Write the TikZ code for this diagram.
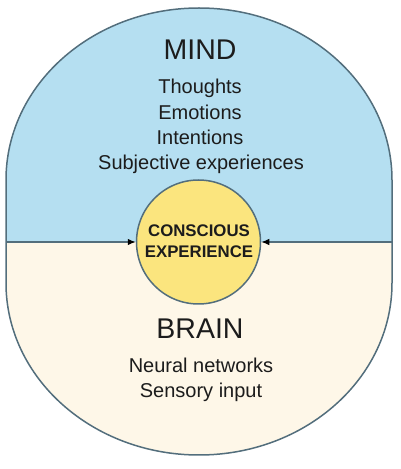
\documentclass[tikz,border=0pt]{standalone}
\usepackage{fontspec}
\setmainfont{Liberation Sans}
\usetikzlibrary{arrows.meta}
\definecolor{mindblue}{HTML}{B5DFF1}
\definecolor{braincream}{HTML}{FEF7E8}
\definecolor{coreyellow}{HTML}{FBE57E}
\definecolor{edgecol}{HTML}{536E7C}
\definecolor{txt}{HTML}{1C1C1C}
\begin{document}
\begin{tikzpicture}[x=1pt,y=1pt,
  title/.style={anchor=base,text=txt,font=\fontsize{28.5}{30}\selectfont},
  item/.style={anchor=base,text=txt,font=\fontsize{20}{22}\selectfont},
  core/.style={anchor=base,text=txt,font=\fontsize{16.8}{18}\selectfont\bfseries},
  link/.style={draw=edgecol,line width=1.2pt,-{Latex[length=8pt,width=6.5pt,color=black]}}]
\useasboundingbox (0,0) rectangle (401,469);
% outer shape
\def\shapepath{(6,289) arc[start angle=180,end angle=0,x radius=193,y radius=172] -- (392,186) arc[start angle=0,end angle=-180,x radius=193,y radius=172] -- cycle}
\begin{scope}
  \clip \shapepath;
  \fill[mindblue] (0,227) rectangle (401,469);
  \fill[braincream] (0,0) rectangle (401,227);
\end{scope}
\draw[edgecol,line width=1.5pt] \shapepath;
\coordinate (lw) at (6,227);
\coordinate (re) at (392,227);
\node[circle,draw=edgecol,line width=1.5pt,fill=coreyellow,minimum size=124pt,inner sep=0pt] (cx) at (198.5,227) {};
\draw[link] (lw) -- (cx.west);
\draw[link] (re) -- (cx.east);
\node[core] (c1) at (199,232) {CONSCIOUS};
\node[core] (c2) at (199,211) {EXPERIENCE};
\node[title] (mind) at (200,409) {MIND};
\node[item] (t1) at (200,375) {Thoughts};
\node[item] (t2) at (200,349.5) {Emotions};
\node[item] (t3) at (200,324) {Intentions};
\node[item] (t4) at (201,299) {Subjective experiences};
\node[title] (brain) at (200,130) {BRAIN};
\node[item] (b1) at (201,96) {Neural networks};
\node[item] (b2) at (201,71) {Sensory input};
\end{tikzpicture}
\end{document}
